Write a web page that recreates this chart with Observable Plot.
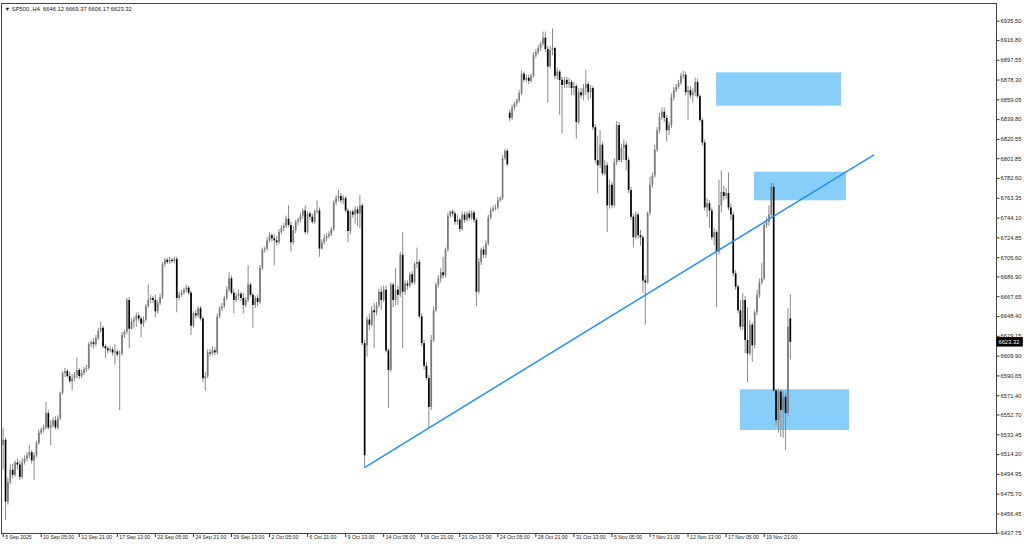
<!DOCTYPE html>
<html>
<head>
<meta charset="utf-8">
<script src="https://cdn.jsdelivr.net/npm/d3@7"></script>
<script src="https://cdn.jsdelivr.net/npm/@observablehq/plot@0.6"></script>
<style>
  html, body { margin: 0; padding: 0; background: #fff; }
  #chart svg { display: block; }
</style>
</head>
<body>
<div id="chart"></div>
<script>
// ---- Chart header ----
const symbolLabel = "SP500.,H4";

// ---- OHLC bars (H4), 5 Sep 2025 .. 20 Nov 2025, bar index 0..331 ----
const open = [
6523,6528,6468,6487,6499,6494,6506,6504,6492,6506,
6510,6513,6516,6508,6513,6525,6535,6538,6540,6554,
6540,6542,6547,6540,6549,6574,6593,6595,6590,6585,
6588,6591,6596,6590,6593,6597,6598,6621,6623,6621,
6627,6634,6637,6619,6617,6615,6616,6613,6614,6611,
6612,6630,6633,6664,6636,6643,6645,6649,6646,6641,
6645,6658,6664,6666,6664,6653,6661,6667,6699,6703,
6701,6703,6702,6704,6666,6669,6671,6674,6676,6671,
6639,6651,6649,6656,6646,6588,6590,6613,6612,6615,
6613,6648,6656,6658,6666,6674,6685,6671,6664,6668,
6670,6666,6659,6664,6679,6669,6659,6666,6662,6695,
6713,6714,6722,6727,6724,6722,6720,6730,6734,6736,
6743,6737,6720,6732,6740,6742,6746,6751,6730,6748,
6745,6740,6750,6751,6714,6720,6724,6726,6728,6733,
6759,6763,6765,6761,6763,6751,6731,6750,6747,6752,
6748,6756,6622,6620,6645,6640,6654,6652,6659,6672,
6664,6674,6615,6596,6679,6664,6674,6669,6708,6672,
6680,6678,6689,6681,6699,6701,6648,6622,6600,6588,
6560,6625,6654,6679,6685,6691,6688,6713,6746,6750,
6748,6740,6742,6733,6747,6742,6748,6744,6749,6742,
6672,6701,6713,6708,6719,6744,6751,6753,6754,6761,
6763,6802,6809,6846,6841,6851,6855,6858,6865,6884,
6878,6880,6877,6882,6902,6905,6909,6913,6919,6908,
6891,6907,6909,6882,6886,6878,6873,6878,6874,6876,
6870,6872,6837,6866,6863,6870,6874,6866,6870,6832,
6800,6795,6815,6787,6795,6756,6776,6756,6798,6834,
6800,6812,6815,6800,6771,6745,6725,6747,6727,6725,
6683,6681,6749,6776,6785,6810,6829,6842,6847,6841,
6829,6834,6861,6868,6871,6875,6882,6883,6866,6868,
6863,6866,6876,6862,6839,6817,6754,6758,6751,6725,
6730,6711,6756,6769,6765,6768,6754,6747,6690,6677,
6654,6638,6664,6625,6612,6640,6620,6652,6669,6681,
6685,6737,6740,6747,6774,6576,6547,6575,6557,6570,
6554,6646.12
];
const high = [
6540,6530,6491,6504,6505,6508,6510,6508,6510,6513,
6516,6523,6518,6516,6527,6538,6540,6543,6565,6557,
6547,6550,6551,6552,6575,6595,6598,6597,6594,6592,
6594,6608,6598,6596,6599,6601,6623,6625,6627,6630,
6637,6643,6639,6621,6619,6619,6618,6621,6616,6615,
6633,6635,6666,6667,6646,6648,6652,6652,6648,6648,
6660,6679,6669,6668,6669,6664,6670,6701,6705,6705,
6706,6705,6706,6706,6672,6674,6676,6679,6678,6673,
6653,6654,6658,6658,6648,6594,6616,6616,6619,6618,
6651,6658,6661,6668,6677,6691,6688,6674,6671,6674,
6672,6671,6667,6698,6681,6671,6668,6669,6698,6715,
6716,6725,6730,6729,6728,6726,6733,6737,6739,6746,
6756,6740,6736,6742,6744,6749,6753,6756,6750,6750,
6748,6752,6761,6754,6723,6728,6729,6731,6735,6761,
6766,6771,6768,6766,6765,6753,6751,6752,6755,6755,
6766,6758,6625,6648,6651,6658,6661,6662,6675,6677,
6678,6678,6617,6681,6681,6695,6678,6711,6730,6683,
6683,6691,6692,6701,6715,6703,6651,6625,6604,6591,
6630,6658,6681,6688,6695,6706,6715,6749,6751,6752,
6750,6747,6744,6750,6750,6750,6751,6751,6751,6744,
6705,6715,6716,6722,6747,6754,6756,6757,6764,6765,
6805,6811,6811,6849,6854,6857,6860,6868,6887,6886,
6883,6883,6884,6905,6908,6912,6915,6925,6925,6911,
6911,6928,6910,6890,6888,6881,6881,6881,6880,6878,
6876,6874,6870,6870,6874,6888,6876,6873,6872,6835,
6824,6829,6818,6800,6798,6781,6779,6802,6838,6837,
6816,6820,6818,6803,6774,6748,6750,6749,6732,6727,
6688,6750,6784,6788,6815,6832,6846,6851,6851,6844,
6837,6865,6871,6874,6878,6885,6887,6886,6872,6872,
6870,6880,6879,6864,6841,6820,6763,6761,6754,6734,
6732,6781,6790,6775,6773,6788,6758,6750,6693,6679,
6664,6671,6668,6657,6645,6642,6654,6674,6685,6700,
6740,6744,6756,6778,6778,6578,6578,6577,6576,6575,
6656,6669.37
];
const low = [
6499,6450,6465,6485,6491,6492,6499,6489,6490,6504,
6507,6510,6505,6489,6511,6523,6533,6535,6538,6538,
6523,6540,6538,6538,6547,6572,6589,6588,6583,6576,
6585,6588,6587,6588,6591,6594,6596,6618,6617,6619,
6625,6632,6617,6608,6612,6613,6610,6601,6609,6557,
6610,6627,6631,6617,6635,6637,6638,6643,6628,6638,
6643,6656,6661,6661,6647,6651,6659,6665,6696,6699,
6699,6700,6700,6652,6664,6667,6669,6671,6669,6630,
6637,6646,6647,6644,6584,6576,6588,6609,6610,6610,
6611,6646,6653,6656,6664,6672,6669,6651,6662,6664,
6663,6651,6657,6662,6667,6637,6656,6658,6660,6693,
6710,6712,6720,6721,6698,6717,6718,6728,6731,6734,
6735,6711,6718,6729,6737,6739,6743,6728,6728,6742,
6738,6738,6748,6706,6713,6718,6721,6724,6726,6731,
6756,6760,6758,6757,6749,6720,6728,6744,6738,6736,
6734,6620,6502,6609,6635,6638,6617,6649,6656,6654,
6662,6613,6559,6594,6657,6659,6659,6667,6617,6669,
6674,6676,6679,6679,6695,6646,6619,6596,6586,6540,
6557,6623,6652,6676,6681,6685,6686,6711,6744,6745,
6737,6737,6730,6731,6739,6740,6741,6742,6739,6658,
6670,6698,6705,6705,6717,6742,6750,6751,6752,6759,
6761,6800,6794,6838,6839,6848,6852,6856,6863,6876,
6876,6874,6875,6880,6899,6903,6906,6911,6905,6856,
6889,6902,6879,6878,6844,6826,6870,6870,6870,6863,
6863,6821,6835,6860,6858,6863,6858,6860,6829,6797,
6768,6792,6785,6785,6730,6753,6753,6754,6795,6798,
6798,6800,6790,6768,6742,6715,6723,6724,6717,6671,
6640,6680,6746,6773,6783,6808,6826,6839,6837,6818,
6824,6831,6858,6866,6869,6873,6879,6863,6839,6860,
6856,6862,6860,6837,6814,6751,6745,6734,6722,6717,
6657,6708,6749,6761,6762,6751,6742,6687,6674,6651,
6635,6635,6612,6584,6610,6604,6617,6649,6666,6679,
6683,6734,6736,6744,6575,6542,6535,6531,6530,6518,
6551,6606.17
];
const close = [
6528,6468,6487,6499,6494,6506,6504,6492,6506,6510,
6513,6516,6508,6513,6525,6535,6538,6540,6554,6540,
6542,6547,6540,6549,6574,6593,6595,6590,6585,6588,
6591,6596,6590,6593,6597,6598,6621,6623,6621,6627,
6634,6637,6619,6617,6615,6616,6613,6614,6611,6612,
6630,6633,6664,6636,6643,6645,6649,6646,6641,6645,
6658,6664,6666,6664,6653,6661,6667,6699,6703,6701,
6703,6702,6704,6666,6669,6671,6674,6676,6671,6639,
6651,6649,6656,6646,6588,6590,6613,6612,6615,6613,
6648,6656,6658,6666,6674,6685,6671,6664,6668,6670,
6666,6659,6664,6679,6669,6659,6666,6662,6695,6713,
6714,6722,6727,6724,6722,6720,6730,6734,6736,6743,
6737,6720,6732,6740,6742,6746,6751,6730,6748,6745,
6740,6750,6751,6714,6720,6724,6726,6728,6733,6759,
6763,6765,6761,6763,6751,6731,6750,6747,6752,6748,
6756,6622,6513,6645,6640,6654,6652,6659,6672,6664,
6674,6615,6596,6679,6664,6674,6669,6708,6672,6680,
6678,6689,6681,6699,6701,6648,6622,6600,6588,6560,
6625,6654,6679,6685,6691,6688,6713,6746,6750,6748,
6740,6742,6733,6747,6742,6748,6744,6749,6742,6672,
6701,6713,6708,6719,6744,6751,6753,6754,6761,6763,
6802,6809,6796,6841,6851,6855,6858,6865,6884,6878,
6880,6877,6882,6902,6905,6909,6913,6919,6908,6891,
6907,6909,6882,6886,6878,6873,6878,6874,6876,6870,
6872,6837,6866,6863,6870,6874,6866,6870,6832,6800,
6795,6815,6787,6795,6756,6776,6756,6798,6834,6800,
6812,6815,6800,6771,6745,6725,6747,6727,6725,6683,
6681,6749,6776,6785,6810,6829,6842,6847,6841,6829,
6834,6861,6868,6871,6875,6882,6883,6866,6868,6863,
6866,6876,6862,6839,6817,6754,6758,6751,6725,6730,
6711,6756,6769,6765,6768,6754,6747,6690,6677,6654,
6638,6664,6625,6612,6640,6620,6652,6669,6681,6685,
6737,6740,6747,6774,6576,6547,6575,6557,6570,6554,
6638,6623.32
];

// ---- Time axis labels (bar index -> label) ----
const xTickIdx = [0,16,32,48,64,80,96,112,128,144,160,176,192,208,224,240,256,272,288,304,320];
const xTickLabels = ["5 Sep 2025","10 Sep 05:00","12 Sep 21:00","17 Sep 13:00","22 Sep 05:00","24 Sep 21:00",
  "29 Sep 13:00","2 Oct 05:00","6 Oct 21:00","9 Oct 13:00","14 Oct 05:00","16 Oct 21:00","21 Oct 13:00",
  "24 Oct 05:00","28 Oct 21:00","31 Oct 13:00","5 Nov 05:00","7 Nov 21:00","12 Nov 13:00","17 Nov 05:00","19 Nov 21:00"];

// ---- Price axis labels ----
const yTicks = [6935.50,6916.80,6897.55,6878.30,6859.05,6839.80,6820.55,6801.85,6782.60,6763.35,6744.10,
  6724.85,6705.60,6686.90,6667.65,6648.40,6629.15,6609.90,6590.65,6571.40,6552.70,6533.45,6514.20,
  6494.95,6475.70,6456.45,6437.75];

// ---- Drawn objects: supply/demand zones and trendline (bar index, price) ----
const zoneStart  = [300.0, 315.9, 310.0];
const zoneEnd    = [352.5, 354.6, 355.9];
const zoneTop    = [6885.3, 6788.7, 6577.2];
const zoneBottom = [6852.9, 6760.9, 6537.6];
const trendIdx   = [151.9, 366.0];
const trendPrice = [6501.6, 6805.4];

// ---- Build tables ----
const bars = close.map((c, i) => ({i, o: open[i], h: high[i], l: low[i], c, up: c >= open[i]}));
const zones = zoneStart.map((s, k) => ({x1: s, x2: zoneEnd[k], y1: zoneBottom[k], y2: zoneTop[k]}));
const trend = trendIdx.map((x, k) => ({x, y: trendPrice[k]}));
const labelMap = new Map(xTickIdx.map((d, k) => [d, xTickLabels[k]]));
const last = bars[bars.length - 1];
const xDomain = [-0.7, 417.7];
const header = "\u25BC " + symbolLabel + "  " + [last.o, last.h, last.l, last.c].map(v => v.toFixed(2)).join(" ");

const chart = Plot.plot({
  width: 1024,
  height: 546,
  marginTop: 3,
  marginBottom: 13,
  marginLeft: 1,
  marginRight: 28,
  x: {type: "linear", domain: xDomain, range: [1, 996], axis: null},
  y: {type: "linear", domain: [6437.75, 6935.5], range: [532.7, 20.7], axis: null},
  style: {fontFamily: "'Liberation Sans', Arial, sans-serif", background: "#fff", color: "#222"},
  marks: [
    Plot.rect(zones, {x1: "x1", x2: "x2", y1: "y1", y2: "y2", fill: "#87CEFA"}),
    Plot.ruleX(bars, {x: "i", y1: "l", y2: "h", stroke: "#8a8a8a", strokeWidth: 1}),
    Plot.ruleX(bars.filter(d => d.up), {x: "i", y1: "o", y2: "c", stroke: "#7a7a7a", strokeWidth: 1.7}),
    Plot.ruleX(bars.filter(d => !d.up), {x: "i", y1: "o", y2: "c", stroke: "#000", strokeWidth: 1.7}),
    Plot.line(trend, {x: "x", y: "y", stroke: "#1E90FF", strokeWidth: 1.5}),
    Plot.axisY({anchor: "right", ticks: yTicks, tickFormat: d => d.toFixed(2), tickSize: 2.5, tickPadding: 1.5, fontSize: 5.8, stroke: "#333"}),
    Plot.axisX({ticks: xTickIdx, tickFormat: () => "", tickSize: 4, stroke: "#333"}),
    Plot.text(xTickIdx, {x: d => d, text: d => labelMap.get(d), frameAnchor: "bottom", lineAnchor: "top", textAnchor: "start", dx: 2, dy: 2, fontSize: 5.2, fill: "#222"}),
    Plot.frame({stroke: "#444"}),
    Plot.rect([last], {x1: () => xDomain[1] + 0.15, x2: () => xDomain[1] + 11.3, y1: d => d.c - 4.6, y2: d => d.c + 4.6, fill: "#000"}),
    Plot.text([last], {x: () => xDomain[1] + 0.8, y: "c", text: d => d.c.toFixed(2), textAnchor: "start", fill: "#fff", fontSize: 5.8}),
    Plot.text([header], {frameAnchor: "top-left", dx: 3, dy: 3, lineAnchor: "top", fontSize: 5.8, fill: "#222"})
  ]
});
document.getElementById("chart").appendChild(chart);
</script>
</body>
</html>
